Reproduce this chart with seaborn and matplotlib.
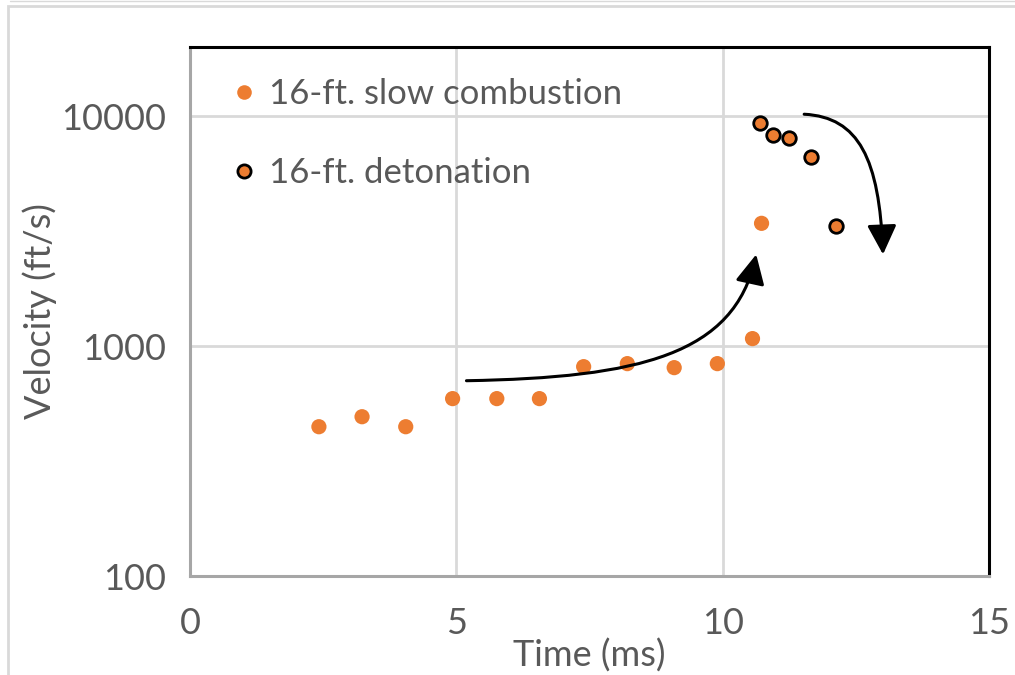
import matplotlib
matplotlib.use("Agg")
import matplotlib.pyplot as plt
from matplotlib.patches import FancyArrowPatch, Rectangle
from matplotlib.path import Path
from matplotlib.lines import Line2D
import pandas as pd
import seaborn as sns

# Flame-front velocity measurements along the 16-ft tube
slow_time = [2.42, 3.23, 4.05, 4.93, 5.76, 6.56, 7.39, 8.21, 9.09, 9.90, 10.56, 10.73]
slow_velocity = [446, 493, 446, 591, 591, 591, 814, 839, 806, 839, 1078, 3420]

det_time = [10.71, 10.95, 11.25, 11.66, 12.13]
det_velocity = [9320, 8270, 8020, 6630, 3320]

slow_label = "16-ft. slow combustion"
det_label = "16-ft. detonation"
x_label = "Time (ms)"
y_label = "Velocity (ft/s)"
x_ticks = [0, 5, 10, 15]
y_ticks = [100, 1000, 10000]

# Trend arrows (cubic Bezier control points, data coordinates)
accel_arrow_t = [5.19, 8.44, 10.22, 10.63]
accel_arrow_v = [707, 729, 918, 2505]
decay_arrow_t = [11.53, 12.56, 12.94, 13.01]
decay_arrow_v = [10200, 9910, 6500, 2505]

ORANGE = "#ED7D31"
TEXT = "#595959"
GRID = "#D9D9D9"

sns.set_theme(style="white")
plt.rcParams["font.family"] = ["Lato", "DejaVu Sans"]

fig = plt.figure(figsize=(10.15, 6.75), dpi=100)
ax = fig.add_axes([190 / 1015, 1 - 576 / 675, (989 - 190) / 1015, (576 - 47) / 675])

slow_df = pd.DataFrame({"t": slow_time, "v": slow_velocity})
det_df = pd.DataFrame({"t": det_time, "v": det_velocity})

sns.scatterplot(data=slow_df, x="t", y="v", ax=ax, color=ORANGE, s=120,
                edgecolor="none", linewidth=0, zorder=4, legend=False)
sns.scatterplot(data=det_df, x="t", y="v", ax=ax, color=ORANGE, s=95,
                edgecolor="black", linewidth=2.0, zorder=5, legend=False)

ax.set_yscale("log")
ax.set_xlim(0, 15)
ax.set_ylim(100, 20000)
ax.set_xticks(x_ticks)
ax.set_xticklabels([str(t) for t in x_ticks])
ax.set_yticks(y_ticks)
ax.set_yticklabels([str(t) for t in y_ticks])
ax.yaxis.set_minor_locator(matplotlib.ticker.NullLocator())
ax.tick_params(axis="both", which="both", length=0, labelsize=26, labelcolor=TEXT)
ax.tick_params(axis="x", pad=22)
ax.tick_params(axis="y", pad=17)

ax.grid(True, which="major", color=GRID, linewidth=2.0, zorder=0)
ax.set_axisbelow(True)

for side in ("top", "right"):
    ax.spines[side].set_color("black")
    ax.spines[side].set_linewidth(2.2)
for side in ("left", "bottom"):
    ax.spines[side].set_color("#A6A6A6")
    ax.spines[side].set_linewidth(2.2)

ax.set_xlabel(x_label, fontsize=26, color=TEXT, labelpad=-1)
ax.set_ylabel(y_label, fontsize=26, color=TEXT, labelpad=3)

# Curved trend arrows
codes = [Path.MOVETO, Path.CURVE4, Path.CURVE4, Path.CURVE4]
for ts, vs in ((accel_arrow_t, accel_arrow_v), (decay_arrow_t, decay_arrow_v)):
    path = Path(list(zip(ts, vs)), codes)
    arrow = FancyArrowPatch(path=path, arrowstyle="-|>,head_length=0.9,head_width=0.45",
                            mutation_scale=20, color="black", linewidth=2.2,
                            transform=ax.transData, zorder=6)
    ax.add_patch(arrow)

handles = [
    Line2D([], [], linestyle="none", marker="o", markersize=10.5,
           markerfacecolor=ORANGE, markeredgecolor="none"),
    Line2D([], [], linestyle="none", marker="o", markersize=9.5,
           markerfacecolor=ORANGE, markeredgecolor="black", markeredgewidth=2.0),
]
ax.legend(handles, [slow_label, det_label], loc="upper left",
          bbox_to_anchor=(0.029, 0.968), frameon=False, fontsize=25,
          labelcolor=TEXT, handletextpad=0.2, labelspacing=1.35,
          handlelength=1.0, borderaxespad=0)

# Chart-area border
fig.patches.append(Rectangle((8 / 1015, -0.01), 1.0, 1 - 6 / 675 + 0.01,
                             transform=fig.transFigure, fill=False,
                             edgecolor=GRID, linewidth=2.0))
fig.lines.append(Line2D([0.01, 1], [1 - 1 / 675, 1 - 1 / 675],
                        transform=fig.transFigure, color=GRID, linewidth=1.0))

fig.savefig("out.png", dpi=100)
